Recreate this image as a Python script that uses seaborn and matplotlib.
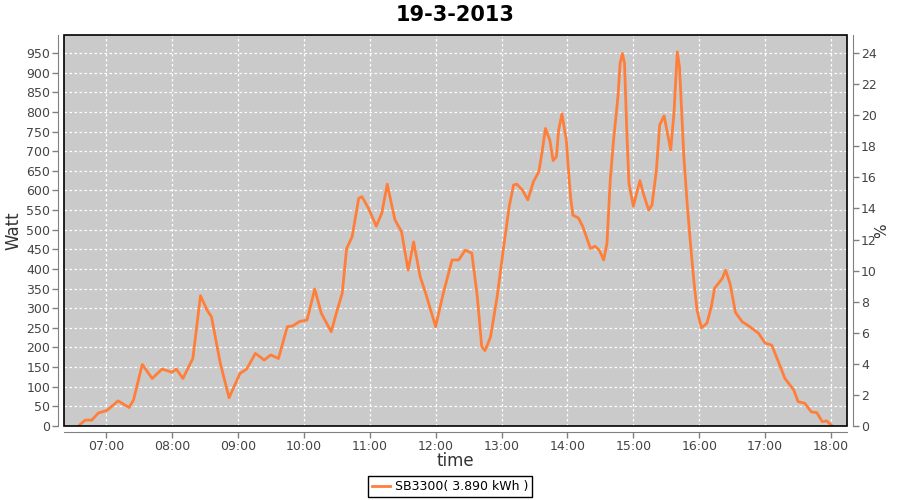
import pandas as pd
import numpy as np
import matplotlib.pyplot as plt
import matplotlib.dates as mdates
import seaborn as sns
from matplotlib.patches import Rectangle

# 数据（从图上读出来的）
times = ["06:35", "06:41", "06:47", "06:53", "07:01", "07:11", "07:21", "07:25", "07:33", "07:42",
         "07:51", "08:00", "08:04", "08:10", "08:19", "08:26", "08:32", "08:36", "08:44", "08:52",
         "09:02", "09:08", "09:16", "09:24", "09:30", "09:37", "09:45", "09:50", "09:56", "10:03",
         "10:10", "10:16", "10:25", "10:30", "10:35", "10:39", "10:44", "10:50", "10:53", "10:59",
         "11:06", "11:11", "11:16", "11:23", "11:29", "11:35", "11:40", "11:46", "11:51", "12:00",
         "12:07", "12:15", "12:21", "12:27", "12:33", "12:38", "12:42", "12:45", "12:50", "12:56",
         "13:02", "13:07", "13:11", "13:14", "13:19", "13:24", "13:29", "13:34", "13:37", "13:40",
         "13:44", "13:47", "13:50", "13:52", "13:55", "13:59", "14:01", "14:03", "14:05", "14:10",
         "14:14", "14:21", "14:25", "14:29", "14:33", "14:36", "14:39", "14:42", "14:46", "14:48",
         "14:50", "14:52", "14:54", "14:56", "15:00", "15:03", "15:06", "15:09", "15:14", "15:17",
         "15:21", "15:24", "15:28", "15:31", "15:34", "15:37", "15:40", "15:42", "15:46", "15:49",
         "15:52", "15:55", "15:58", "16:02", "16:07", "16:11", "16:14", "16:21", "16:24", "16:28",
         "16:33", "16:39", "16:46", "16:54", "17:00", "17:06", "17:12", "17:18", "17:26", "17:30",
         "17:36", "17:42", "17:47", "17:52", "17:56", "18:01"]
watt = [0, 15, 15, 33, 40, 64, 47, 66, 157, 121,
        145, 137, 145, 121, 172, 332, 295, 278, 160, 72,
        134, 145, 185, 168, 181, 172, 253, 255, 266, 270,
        349, 287, 240, 291, 338, 452, 482, 580, 584, 554,
        509, 542, 616, 525, 495, 397, 469, 380, 338, 253,
        338, 423, 423, 448, 440, 329, 202, 192, 227, 329,
        457, 559, 614, 616, 601, 576, 622, 648, 699, 758,
        728, 676, 686, 754, 795, 728, 650, 580, 537, 530,
        508, 452, 458, 448, 423, 465, 627, 728, 839, 924,
        949, 924, 754, 618, 560, 593, 625, 593, 550, 563,
        652, 767, 790, 746, 703, 797, 953, 915, 686, 567,
        465, 372, 295, 250, 262, 304, 351, 376, 397, 363,
        289, 266, 253, 236, 211, 206, 164, 121, 92, 62,
        58, 36, 34, 11, 13, 0]
day = "2013-03-19"
series_name = "SB3300( 3.890 kWh )"

df = pd.DataFrame({"time": pd.to_datetime([day + " " + t for t in times]), "watt": watt})

# 画图
plt.rcParams['font.family'] = ['DejaVu Sans']
fig = plt.figure(figsize=(9, 5), dpi=100)
ax = fig.add_axes([64 / 900, 1 - 426 / 500, 783 / 900, 391 / 500])
ax.set_facecolor("#cacaca")

sns.lineplot(data=df, x="time", y="watt", ax=ax, color="#ff7f3a", linewidth=2, label=series_name, legend=False)

wmax = 996
ax.set_ylim(0, wmax)
ax.set_yticks(np.arange(0, 951, 50))
ax.set_xlim(pd.Timestamp(day + " 06:21:45"), pd.Timestamp(day + " 18:14:30"))
ax.xaxis.set_major_locator(mdates.HourLocator())
ax.xaxis.set_major_formatter(mdates.DateFormatter("%H:%M"))

ax.grid(True, color="white", linestyle=(0, (2, 2)), linewidth=0.9)
ax.set_axisbelow(True)

# 右边的 % 轴
ax2 = ax.twinx()
ax2.set_ylim(0, wmax / 950 * 24)
ax2.set_yticks(np.arange(0, 25, 2))
ax2.set_ylabel("%", fontsize=11, color="#333333")
ax2.yaxis.set_label_coords(1.035, 0.5)

for a in (ax, ax2):
    for s in a.spines.values():
        s.set_visible(False)
    a.tick_params(colors="#808080", labelcolor="#444444", labelsize=9, length=4, width=1, pad=2)

ax.spines["left"].set_visible(True)
ax.spines["left"].set_position(("outward", 4))
ax.spines["left"].set_color("#808080")
ax.spines["bottom"].set_visible(True)
ax.spines["bottom"].set_position(("outward", 4))
ax.spines["bottom"].set_color("#808080")
ax2.spines["right"].set_visible(True)
ax2.spines["right"].set_position(("outward", 4))
ax2.spines["right"].set_color("#808080")

# 黑色边框
ax.add_patch(Rectangle((0, 0), 1, 1, transform=ax.transAxes, fill=False,
                       edgecolor="black", linewidth=1.2, clip_on=False, zorder=5))

ax.set_xlabel("time", fontsize=12, color="#333333")
ax.xaxis.set_label_coords(0.5, -0.066)
ax.set_ylabel("Watt", fontsize=12, color="#333333")
ax.yaxis.set_label_coords(-0.053, 0.5)
ax.set_title("19-3-2013", fontsize=15, fontweight="bold", pad=10)

h, l = ax.get_legend_handles_labels()
fig.legend(h, l, loc="lower center", bbox_to_anchor=(0.5, -0.006), frameon=True, fancybox=False,
           edgecolor="black", framealpha=1, fontsize=9, handlelength=1.4, borderpad=0.3,
           handletextpad=0.4)

plt.savefig("out.png", dpi=100)
